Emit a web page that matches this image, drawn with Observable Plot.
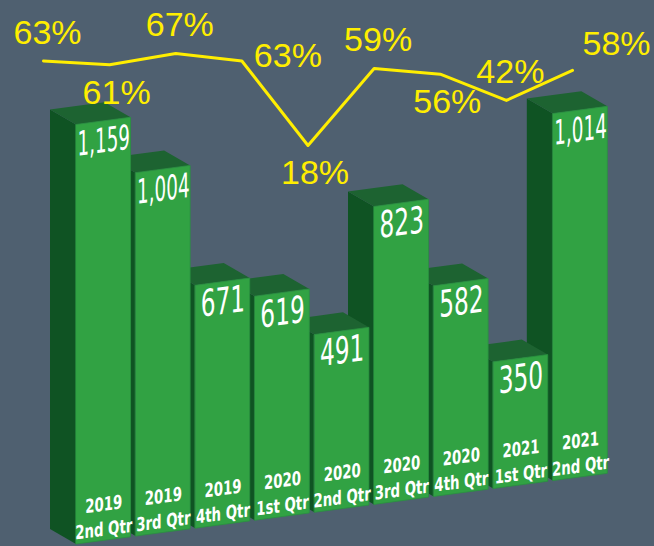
<!DOCTYPE html>
<html><head><meta charset="utf-8">
<script src="https://cdn.jsdelivr.net/npm/d3@7"></script>
<script src="https://cdn.jsdelivr.net/npm/@observablehq/plot@0.6"></script>
<style>
html,body{margin:0;padding:0;background:#4f6070;}
#chart{position:relative;width:654px;height:546px;overflow:hidden;background:#4f6070;}
#chart svg{position:absolute;left:0;top:0;}
</style></head><body><div id="chart"></div>
<script>
// ---- data ----
const years = ["2019","2019","2019","2020","2020","2020","2020","2021","2021"];
const quarters = ["2nd Qtr","3rd Qtr","4th Qtr","1st Qtr","2nd Qtr","3rd Qtr","4th Qtr","1st Qtr","2nd Qtr"];
const counts = [1159,1004,671,619,491,823,582,350,1014];
const shares = [63,61,67,63,18,59,56,42,58];
const shareLabelPlacement = ["above","below","above","right","below","above","below","above","aboveRight"];

// ---- geometry (3D look) ----
const W = 654, H = 546;
const FRONT = 0.915;     // front face width (band units)
const DEPTH_X = 0.436;   // depth to the left (band units)
const DEPTH_Y = 51;      // depth upwards (value units)
const SHEAR = 21.9;      // perspective rise of the floor per band (value units)
const SKEW_DEG = -7.58;

const bars = counts.map((v, i) => ({i, v, year: years[i], quarter: quarters[i]}));
const fmt = d3.format(",");

const frontFaces = bars.flatMap(b => {
  const L = b.i, R = b.i + FRONT;
  return [
    {z: b.i, x: L, y1: SHEAR * L, y2: SHEAR * L + b.v},
    {z: b.i, x: R, y1: SHEAR * R, y2: SHEAR * R + b.v}
  ];
});
const sideFaces = bars.slice().reverse().flatMap(b => {
  const L = b.i, B = L - DEPTH_X;
  return [
    {z: b.i, x: B, y1: SHEAR * B + DEPTH_Y, y2: SHEAR * B + b.v + DEPTH_Y},
    {z: b.i, x: L, y1: SHEAR * L, y2: SHEAR * L + b.v}
  ];
});
const topFaces = bars.slice().reverse().flatMap(b => {
  const L = b.i, R = b.i + FRONT, v = b.v, h = DEPTH_Y, d = DEPTH_X;
  return [
    {z: b.i, x: L - d, y1: SHEAR * (L - d) + v + h, y2: SHEAR * (L - d) + v + h},
    {z: b.i, x: L, y1: SHEAR * L + v, y2: SHEAR * L + v + h},
    {z: b.i, x: R - d, y1: SHEAR * (R - d) + v, y2: SHEAR * (R - d) + v + h},
    {z: b.i, x: R, y1: SHEAR * R + v, y2: SHEAR * R + v}
  ];
});

const narrow = "'DejaVu Sans Condensed','Liberation Sans Narrow',sans-serif";
const mid = d => d.i + FRONT / 2;

const barPlot = Plot.plot({
  width: W, height: H,
  marginLeft: 76, marginRight: W - 612.4, marginTop: 0, marginBottom: 0,
  x: {type: "linear", domain: [0, 9], axis: null},
  y: {type: "linear", domain: [-5.5, 1503], axis: null},
  style: "background:transparent;overflow:visible;",
  marks: [
    Plot.areaY(sideFaces, {x: "x", y1: "y1", y2: "y2", z: "z", fill: "#0f5323", curve: "linear"}),
    Plot.areaY(topFaces, {x: "x", y1: "y1", y2: "y2", z: "z", fill: "#1d6331", curve: "linear"}),
    Plot.areaY(frontFaces, {x: "x", y1: "y1", y2: "y2", z: "z", fill: "#31a243", stroke: "#2a9140", strokeWidth: 0.8, curve: "linear"}),
    Plot.text(bars, {x: mid, y: d => SHEAR * mid(d) + d.v - 55, text: d => fmt(d.v),
      fill: "white", fontFamily: narrow, fontSize: d => d.v >= 1000 ? 34 : 37, ariaDescription: "value-labels"}),
    Plot.text(bars, {x: mid, y: d => SHEAR * mid(d) + 100, text: "year",
      fill: "white", fontFamily: narrow, fontWeight: "bold", fontSize: 19, ariaDescription: "cat-labels"}),
    Plot.text(bars, {x: mid, y: d => SHEAR * mid(d) + 31, text: "quarter",
      fill: "white", fontFamily: narrow, fontWeight: "bold", fontSize: 19, ariaDescription: "cat-labels"})
  ]
});

const shareData = shares.map((v, i) => ({i, v, pos: shareLabelPlacement[i]}));
const offsets = {
  above: {dx: 4, dy: -28},
  below: {dx: 7, dy: 28},
  right: {dx: 46, dy: -5},
  aboveRight: {dx: 44, dy: -26}
};
const linePlot = Plot.plot({
  width: W, height: H,
  marginLeft: 43, marginRight: W - 572, marginTop: 9.8, marginBottom: H - 178.8,
  x: {type: "linear", domain: [0, 8], axis: null},
  y: {type: "linear", domain: [0, 90], axis: null},
  style: "background:transparent;overflow:visible;",
  marks: [
    Plot.line(shareData, {x: "i", y: "v", stroke: "#ffee00", strokeWidth: 3, curve: "linear"}),
    ...Object.entries(offsets).map(([p, o]) =>
      Plot.text(shareData.filter(d => d.pos === p), {x: "i", y: "v", text: d => d.v + "%",
        dx: o.dx, dy: o.dy, fill: "#ffee00", fontSize: 34, fontFamily: "'Liberation Sans',Arial,sans-serif"}))
  ]
});

function transformTexts(svg, desc, extra) {
  svg.querySelectorAll(`g[aria-description="${desc}"] text`).forEach(t => {
    let tr = t.getAttribute("transform");
    if (!tr) {
      const x = t.getAttribute("x") || 0, y = t.getAttribute("y") || 0;
      t.removeAttribute("x"); t.removeAttribute("y");
      tr = `translate(${x},${y})`;
    }
    t.setAttribute("transform", tr + " " + extra(t));
  });
}
transformTexts(barPlot, "value-labels", t => `skewY(${SKEW_DEG}) scale(${t.textContent.length > 3 ? 0.6 : 0.7},1)`);
transformTexts(barPlot, "cat-labels", () => `skewY(${SKEW_DEG}) scale(0.78,1)`);

const chart = document.getElementById("chart");
chart.appendChild(barPlot);
chart.appendChild(linePlot);
</script></body></html>
